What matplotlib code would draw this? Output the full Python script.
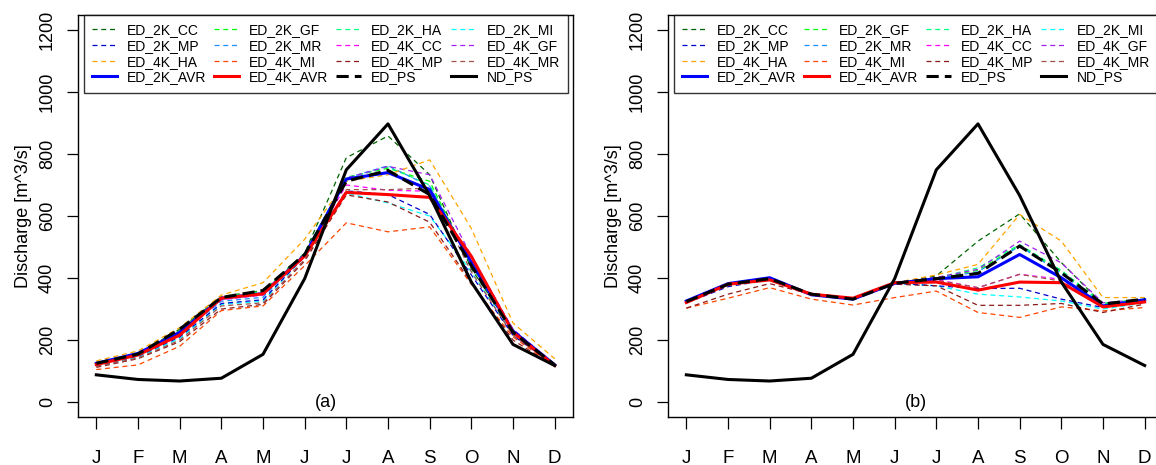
import matplotlib
matplotlib.use("Agg")
import matplotlib.pyplot as plt

plt.rcParams['font.family'] = ['Liberation Sans', 'DejaVu Sans']

months = ["J", "F", "M", "A", "M", "J", "J", "A", "S", "O", "N", "D"]

nd_ps = [88, 73, 68, 77, 154, 398, 749, 897, 666, 387, 186, 118]

# panel (a)
a_2k_cc = [125, 155, 235, 340, 360, 480, 788, 858, 733, 430, 230, 120]
a_2k_gf = [125, 155, 230, 340, 358, 480, 725, 754, 712, 440, 230, 120]
a_2k_ha = [124, 154, 228, 338, 356, 478, 722, 758, 700, 445, 232, 120]
a_2k_mi = [115, 145, 205, 315, 325, 470, 674, 642, 600, 420, 220, 118]
a_2k_mp = [118, 148, 210, 318, 330, 470, 681, 669, 605, 410, 215, 118]
a_2k_mr = [120, 150, 218, 325, 338, 475, 722, 762, 696, 450, 232, 120]
a_4k_cc = [120, 150, 220, 330, 345, 472, 700, 683, 680, 460, 230, 120]
a_4k_gf = [122, 152, 228, 338, 352, 478, 722, 760, 733, 470, 235, 122]
a_4k_ha = [133, 165, 240, 345, 385, 525, 712, 733, 781, 560, 255, 140]
a_4k_mi = [105, 120, 180, 295, 310, 440, 578, 549, 565, 380, 210, 115]
a_4k_mp = [112, 140, 195, 300, 315, 455, 668, 645, 580, 385, 200, 115]
a_4k_mr = [115, 142, 200, 310, 320, 460, 685, 685, 690, 420, 215, 118]
a_2k_avr = [125, 157, 225, 335, 350, 473, 719, 740, 685, 450, 229, 120]
a_4k_avr = [121, 152, 216, 335, 349, 471, 676, 669, 660, 470, 225, 118]
a_ed_ps = [125, 155, 235, 337, 360, 476, 712, 747, 669, 440, 225, 120]

# panel (b)
b_2k_cc = [323, 378, 398, 348, 333, 383, 407, 519, 607, 450, 315, 330]
b_2k_gf = [324, 379, 399, 348, 333, 384, 400, 425, 505, 420, 318, 332]
b_2k_ha = [324, 379, 399, 348, 333, 384, 400, 433, 508, 425, 318, 332]
b_2k_mi = [322, 378, 398, 347, 332, 383, 375, 348, 339, 326, 300, 320]
b_2k_mp = [320, 372, 395, 347, 332, 383, 375, 366, 367, 332, 305, 326]
b_2k_mr = [324, 379, 399, 348, 333, 384, 398, 420, 503, 415, 312, 330]
b_4k_cc = [322, 378, 397, 347, 333, 384, 395, 369, 412, 396, 310, 325]
b_4k_gf = [324, 379, 399, 348, 333, 384, 402, 428, 519, 449, 320, 332]
b_4k_ha = [325, 380, 400, 350, 335, 385, 410, 444, 605, 519, 337, 337]
b_4k_mi = [303, 335, 369, 332, 313, 337, 358, 289, 273, 307, 294, 305]
b_4k_mp = [303, 348, 382, 348, 332, 380, 375, 312, 312, 318, 289, 316]
b_4k_mr = [322, 376, 396, 347, 333, 384, 393, 369, 412, 390, 308, 322]
b_2k_avr = [326, 382, 401, 346, 332, 383, 398, 404, 476, 401, 310, 330]
b_4k_avr = [321, 380, 394, 348, 335, 385, 387, 361, 387, 385, 307, 323]
b_ed_ps = [324, 380, 398, 348, 332, 383, 398, 415, 503, 417, 316, 332]

names = ["ED_2K_CC", "ED_2K_GF", "ED_2K_HA", "ED_2K_MI",
         "ED_2K_MP", "ED_2K_MR", "ED_4K_CC", "ED_4K_GF",
         "ED_4K_HA", "ED_4K_MI", "ED_4K_MP", "ED_4K_MR"]
colors = ["#006400", "#00FF00", "#00FF7F", "#00FFFF",
          "#0000CD", "#1E90FF", "#FF00FF", "#A020F0",
          "#FFA500", "#FF4500", "#8B1A1A", "#A0524D"]

panel_a = [a_2k_cc, a_2k_gf, a_2k_ha, a_2k_mi, a_2k_mp, a_2k_mr,
           a_4k_cc, a_4k_gf, a_4k_ha, a_4k_mi, a_4k_mp, a_4k_mr]
panel_b = [b_2k_cc, b_2k_gf, b_2k_ha, b_2k_mi, b_2k_mp, b_2k_mr,
           b_4k_cc, b_4k_gf, b_4k_ha, b_4k_mi, b_4k_mp, b_4k_mr]

fig = plt.figure(figsize=(11.56, 4.65), dpi=100)
ax1 = fig.add_axes([78/1156, 48/465, 495/1156, 402/465])
ax2 = fig.add_axes([668/1156, 48/465, 495/1156, 402/465])

x = list(range(1, 13))

def draw(ax, series, avr2, avr4, edps, label):
    for s, n, c in zip(series, names, colors):
        ax.plot(x, s, color=c, lw=0.9, dashes=(4, 3), label=n)
    ax.plot(x, avr2, color="blue", lw=2.2, label="ED_2K_AVR")
    ax.plot(x, avr4, color="red", lw=2.2, label="ED_4K_AVR")
    ax.plot(x, edps, color="black", lw=2.2, dashes=(4, 2), label="ED_PS")
    ax.plot(x, nd_ps, color="black", lw=2.2, label="ND_PS")
    ax.set_xlim(1 - 0.44, 12 + 0.44)
    ax.set_ylim(-48, 1248)
    ax.set_xticks(x)
    ax.set_xticklabels(months, fontsize=13.5)
    yt = list(range(0, 1201, 200))
    ax.set_yticks(yt)
    ax.set_yticklabels([str(v) for v in yt], rotation=90, va="center", fontsize=13)
    ax.tick_params(axis="x", length=8.5, width=0.9, pad=15.5, direction="out")
    ax.tick_params(axis="y", length=8, width=0.9, pad=8, direction="out")
    ax.set_ylabel("Discharge [m^3/s]", fontsize=13, labelpad=5)
    for sp in ax.spines.values():
        sp.set_linewidth(1.0)
    ax.text(6.5, 0, label, ha="center", va="center", fontsize=13)
    h, l = ax.get_legend_handles_labels()
    # legend fills column-wise; reorder so it reads row-wise
    order = [r * 4 + c for c in range(4) for r in range(4)]
    leg = ax.legend([h[i] for i in order], [l[i] for i in order], ncol=4,
                    loc="upper left", bbox_to_anchor=(0.012, 1.0, 0.978, 0),
                    mode="expand", fontsize=10, frameon=True, fancybox=False,
                    edgecolor="black", handlelength=1.8, handletextpad=0.72,
                    labelspacing=0.12, borderpad=0.6, borderaxespad=0.0,
                    columnspacing=0.5)
    leg.get_frame().set_linewidth(1.0)

draw(ax1, panel_a, a_2k_avr, a_4k_avr, a_ed_ps, "(a)")
draw(ax2, panel_b, b_2k_avr, b_4k_avr, b_ed_ps, "(b)")

fig.savefig("out.png", dpi=100)
